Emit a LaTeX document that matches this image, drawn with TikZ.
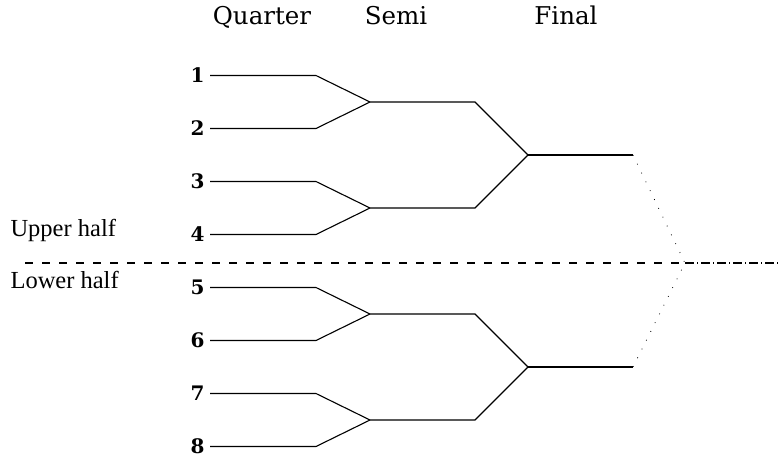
\documentclass[tikz,border=0pt]{standalone}
\usepackage{fontspec}
\setmainfont{Liberation Serif}
\newfontfamily\bracketfont{DejaVu Serif}
\usetikzlibrary{positioning}

\tikzset{
	seed/.style={font=\bracketfont\fontsize{20}{20}\selectfont\bfseries, anchor=east, inner xsep=5pt, inner ysep=0pt},
	roundname/.style={font=\bracketfont\fontsize{24.5}{24.5}\selectfont, anchor=base},
	halfname/.style={font=\fontsize{24.5}{24.5}\selectfont, anchor=base west, inner sep=0pt},
}

\begin{document}
\begin{tikzpicture}[x=1pt, y=-1pt, line width=1.1pt]
	\useasboundingbox (0,0) rectangle (780,459);
	% round headers
	\node [roundname] (quarter) at (262,24) {Quarter};
	\node [roundname] (semi) at (396,24) {Semi};
	\node [roundname] (final) at (566,24) {Final};
	% halves
	\node [halfname] (upper) at (10,236) {Upper half};
	\node [halfname] (lower) at (10,288) {Lower half};
	% players
	\foreach \i in {1,...,8}
		\node [seed] (p\i) at (210,{75.5+(\i-1)*53}) {\i};
	% quarter finals
	\foreach \j/\a/\b in {1/1/2, 2/3/4, 3/5/6, 4/7/8} {
		\coordinate (q\j) at (370,{75.5+(2*\j-1.5)*53});
		\draw (p\a.east) --++ (106,0) -- (q\j);
		\draw (p\b.east) --++ (106,0) -- (q\j);
	}
	% semi finals
	\foreach \k/\a/\b in {1/1/2, 2/3/4} {
		\coordinate (s\k) at (528,{75.5+(4*\k-2.5)*53});
		\draw (q\a) --++ (105,0) -- (s\k);
		\draw (q\b) --++ (105,0) -- (s\k);
		\draw (s\k) --++ (105,0) coordinate (f\k);
	}
	% final
	\coordinate (m) at (685,263);
	\draw [line width=0.8pt, dash pattern=on 0.8pt off 9pt] (f1) -- (m) -- (f2);
	\coordinate (left) at (25,263);
	\coordinate (right) at (780,263);
	\draw [dash pattern=on 8pt off 9pt] (left) -- (m);
	\draw [dash pattern=on 9pt off 3pt on 1pt off 3pt] (m) -- (right);
\end{tikzpicture}
\end{document}
